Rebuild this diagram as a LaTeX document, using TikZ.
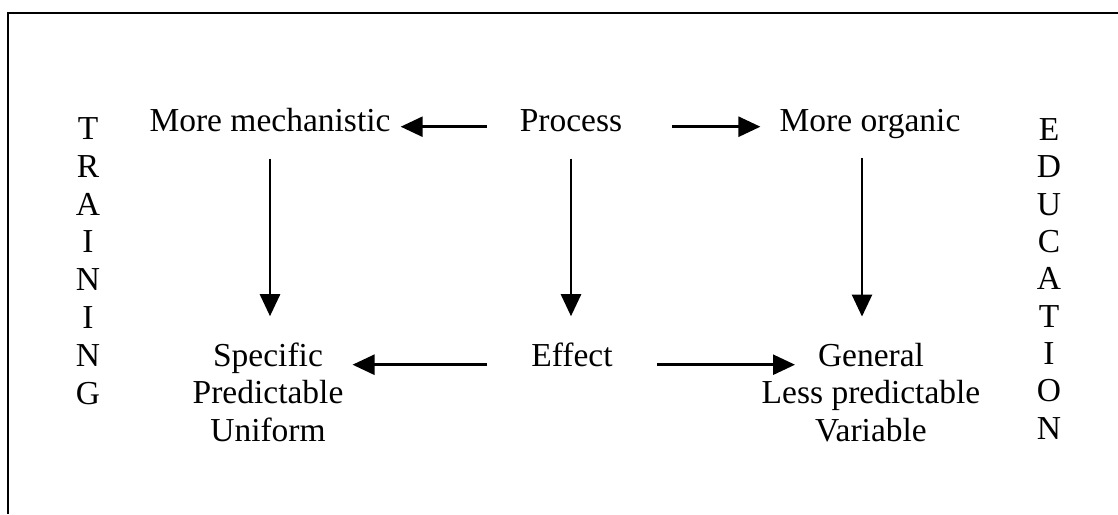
\documentclass[tikz,border=0pt]{standalone}
\usepackage{fontspec}
\setmainfont{Liberation Serif}
\usetikzlibrary{arrows.meta, positioning}

\begin{document}
\begin{tikzpicture}[x=1pt, y=-1pt,
    txt/.style={inner sep=0pt, font=\fontsize{33.5}{37.5}\selectfont, align=center},
    arr/.style={-{Triangle[length=22pt, width=20pt]}, line width=2.6pt}]
  \useasboundingbox (0,0) rectangle (1118,514);
  % frame, cut off at the right and bottom
  \draw[line width=2.8pt] (1118,13) -- (8,13) -- (8,514);

  \node[txt, anchor=base] (mech) at (270,131) {More mechanistic};
  \node[txt, anchor=base] (proc) at (571,131) {Process};
  \node[txt, anchor=base] (org) at (870,131) {More organic};

  % multi-line nodes: base is the last line
  \node[txt, anchor=base] (spec) at (268,441) {Specific\\Predictable\\Uniform};
  \node[txt, anchor=base] (eff) at (572,366) {Effect};
  \node[txt, anchor=base] (gen) at (871,441) {General\\Less predictable\\Variable};

  \node[txt, anchor=base, font=\fontsize{33.5}{37.8}\selectfont] (train) at (88,404) {T\\R\\A\\I\\N\\I\\N\\G};
  \node[txt, anchor=base, font=\fontsize{33.5}{37.3}\selectfont] (educ) at (1049,439) {E\\D\\U\\C\\A\\T\\I\\O\\N};

  \draw[arr, shorten <=33pt, shorten >=10pt] ([yshift=2pt]proc.mid west) -- ([yshift=2pt]mech.mid east);
  \draw[arr, shorten <=50pt, shorten >=19pt] ([yshift=2pt]proc.mid east) -- ([yshift=2pt]org.mid west);

  \draw[arr, shorten <=27pt, shorten >=26pt] (mech.south) -- (mech.south |- spec.north);
  \draw[arr, shorten <=27pt, shorten >=26pt] (proc.south) -- (proc.south |- eff.north);
  \draw[arr, shorten <=20pt, shorten >=26pt] ([xshift=-8pt]org.south) -- ([xshift=-8pt]org.south |- gen.north);

  \draw[arr, shorten <=44pt, shorten >=9pt] ([yshift=-1pt]eff.mid west) -- ([yshift=-1pt]eff.mid west -| spec.east);
  \draw[arr, shorten <=44pt, shorten >=76pt] ([yshift=-1pt]eff.mid east) -- ([yshift=-1pt]eff.mid east -| gen.north);
\end{tikzpicture}
\end{document}
